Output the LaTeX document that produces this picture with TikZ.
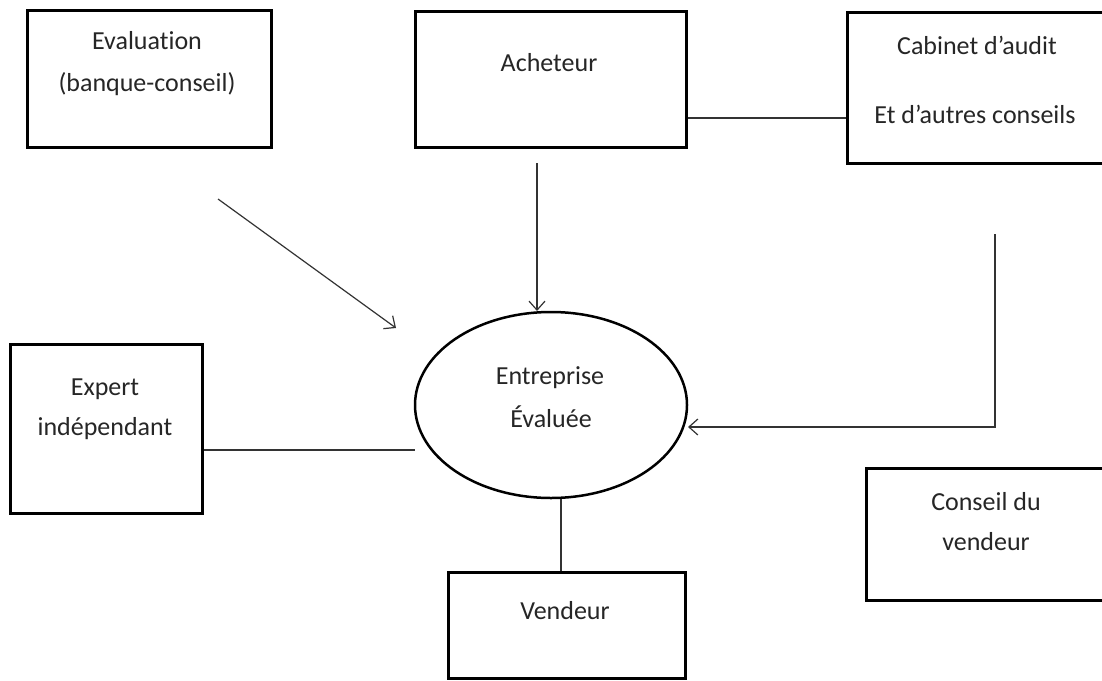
\documentclass[tikz,border=0pt]{standalone}
\usepackage{fontspec}
\setmainfont{Carlito}[Ligatures=NoCommon]
\usetikzlibrary{arrows.meta,shapes.geometric}
\begin{document}
\begin{tikzpicture}[x=1pt,y=-1pt,
  boxnode/.style={draw=black, line width=3pt, inner sep=0pt, rectangle},
  txt/.style={anchor=base, inner sep=0pt, font=\fontsize{26}{30}\selectfont, text=black!85},
  conn/.style={line width=1.2pt, draw=black!80},
  arr/.style={conn, -{Straight Barb[length=9pt,width=16pt]}}]
\useasboundingbox (0,0) rectangle (1102,680);
\clip (0,0) rectangle (1102,680);
\fill[white] (0,0) rectangle (1102,680);
% boxes
\node[boxnode, minimum width=244pt, minimum height=137pt] (eval) at (149,78.5) {};
\node[boxnode, minimum width=271pt, minimum height=136pt] (ach) at (550.5,79) {};
\node[boxnode, minimum width=268pt, minimum height=151pt] (cab) at (981,87.5) {};
\node[boxnode, minimum width=192pt, minimum height=169pt] (expert) at (106,428.5) {};
\node[boxnode, minimum width=237pt, minimum height=106pt] (vend) at (566.5,625) {};
\node[boxnode, minimum width=249pt, minimum height=132pt] (cons) at (990.5,534) {};
\node[ellipse, draw=black, line width=2.5pt, inner sep=0pt, minimum width=272pt, minimum height=186pt] (ent) at (551,405) {};
% texts
\node[txt] (t1) at (147,49) {Evaluation};
\node[txt] (t2) at (147,91) {(banque-conseil)};
\node[txt] (t3) at (549,71) {Acheteur};
\node[txt] (t4) at (977,54) {Cabinet d’audit};
\node[txt] (t5) at (975,123) {Et d’autres conseils};
\node[txt] (t6) at (105,395) {Expert};
\node[txt] (t7) at (105,435) {indépendant};
\node[txt] (t8) at (550,384) {Entreprise};
\node[txt] (t9) at (551,427) {Évaluée};
\node[txt] (t10) at (565,619) {Vendeur};
\node[txt] (t11) at (986,510) {Conseil du};
\node[txt] (t12) at (986,550) {vendeur};
% connectors
\coordinate (e1) at (218,199);
\coordinate (e2) at (396,328);
\draw[arr] (e1) -- (e2);
\coordinate (a1) at (537,163);
\coordinate (a2) at (537,311);
\draw[arr] (a1) -- (a2);
\coordinate (hy) at (0,118);
\draw[conn] (ach.east |- hy) -- (cab.west |- hy);
\coordinate (k1) at (995,234);
\coordinate (k2) at (688,427);
\draw[arr] (k1) |- (k2);
\coordinate (x1) at (0,450);
\coordinate (x2) at (415,450);
\draw[conn] (expert.east |- x1) -- (x2);
\coordinate (v) at (561,0);
\draw[conn] (ent.south -| v) -- (vend.north -| v);
\end{tikzpicture}
\end{document}
